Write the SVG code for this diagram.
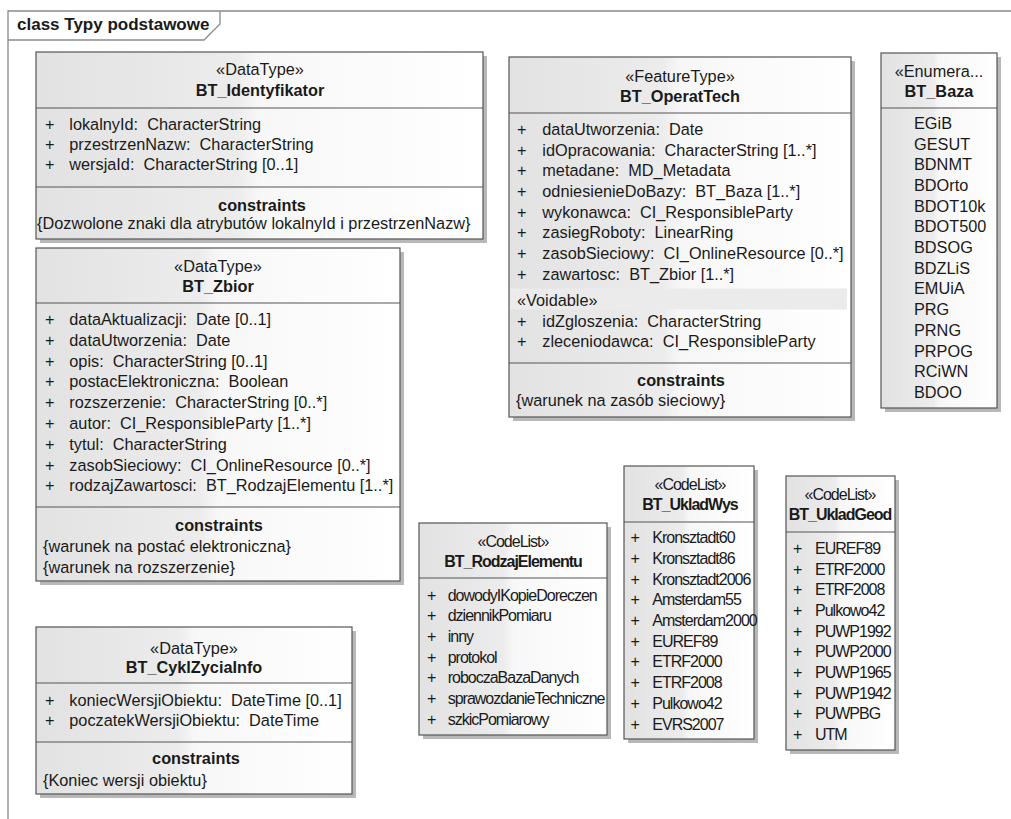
<svg xmlns="http://www.w3.org/2000/svg" width="1011" height="819" viewBox="0 0 1011 819">
<defs>
<linearGradient id="g" x1="0" y1="0" x2="1" y2="0">
<stop offset="0" stop-color="#e2e2e2"/>
<stop offset="0.45" stop-color="#ececec"/>
<stop offset="0.5" stop-color="#f7f7f7"/>
<stop offset="1" stop-color="#ffffff"/>
</linearGradient>
<style>
.frame{fill:none;stroke:#8a8a8a;stroke-width:1.3}
.box{fill:url(#g);stroke:#555555;stroke-width:1.2}
.sh{fill:#b8b8b8}
.ln{stroke:#555555;stroke-width:1.2}
.vb{fill:#ebebeb}
text{font-family:"Liberation Sans",Arial,sans-serif;font-size:16.3px;fill:#1a1a1a;white-space:pre}
.b{font-weight:bold}
.c{text-anchor:middle}
.n text{letter-spacing:-1px;font-size:16px}
.t{font-size:17px;font-weight:bold}
</style>
</defs>
<rect x="0" y="0" width="1011" height="819" fill="#ffffff"/>
<g id="frame">
<path class="frame" d="M8,819 V11 H1011"/>
<path class="frame" d="M8,40 H204 L220,24 V11"/>
<text class="t" x="17" y="30">class Typy podstawowe</text>
</g>
<g id="connectors"/>

<g id="BT_Identyfikator">
<rect class="sh" x="40" y="56" width="447" height="187"/>
<rect class="box" x="36" y="52" width="447" height="187"/>
<line class="ln" x1="36" y1="108" x2="483" y2="108"/>
<line class="ln" x1="36" y1="187" x2="483" y2="187"/>
<text class="c" x="260" y="75">«DataType»</text>
<text class="c b" x="260" y="96">BT_Identyfikator</text>
<text x="45" y="130">+</text><text x="69.3" y="130">lokalnyId:  CharacterString</text>
<text x="45" y="150.3">+</text><text x="69.3" y="150.3">przestrzenNazw:  CharacterString</text>
<text x="45" y="170.3">+</text><text x="69.3" y="170.3">wersjaId:  CharacterString [0..1]</text>
<text class="c b" x="262" y="210.5">constraints</text>
<text x="37" y="229">{Dozwolone znaki dla atrybutów lokalnyId i przestrzenNazw}</text>
</g>

<g id="BT_Zbior">
<rect class="sh" x="40" y="252" width="364" height="333"/>
<rect class="box" x="36" y="248" width="364" height="333"/>
<line class="ln" x1="36" y1="303" x2="400" y2="303"/>
<line class="ln" x1="36" y1="507" x2="400" y2="507"/>
<text class="c" x="218" y="272">«DataType»</text>
<text class="c b" x="218" y="292">BT_Zbior</text>
<text x="45" y="324.8">+</text><text x="69.3" y="324.8">dataAktualizacji:  Date [0..1]</text>
<text x="45" y="345.6">+</text><text x="69.3" y="345.6">dataUtworzenia:  Date</text>
<text x="45" y="366.5">+</text><text x="69.3" y="366.5">opis:  CharacterString [0..1]</text>
<text x="45" y="387.3">+</text><text x="69.3" y="387.3">postacElektroniczna:  Boolean</text>
<text x="45" y="408.1">+</text><text x="69.3" y="408.1">rozszerzenie:  CharacterString [0..*]</text>
<text x="45" y="429">+</text><text x="69.3" y="429">autor:  CI_ResponsibleParty [1..*]</text>
<text x="45" y="449.8">+</text><text x="69.3" y="449.8">tytul:  CharacterString</text>
<text x="45" y="470.6">+</text><text x="69.3" y="470.6">zasobSieciowy:  CI_OnlineResource [0..*]</text>
<text x="45" y="491.4">+</text><text x="69.3" y="491.4">rodzajZawartosci:  BT_RodzajElementu [1..*]</text>
<text class="c b" x="219" y="531">constraints</text>
<text x="43" y="552">{warunek na postać elektroniczna}</text>
<text x="43" y="572.7">{warunek na rozszerzenie}</text>
</g>

<g id="BT_CyklZyciaInfo">
<rect class="sh" x="40" y="631" width="316" height="167"/>
<rect class="box" x="36" y="627" width="316" height="167"/>
<line class="ln" x1="36" y1="683" x2="352" y2="683"/>
<line class="ln" x1="36" y1="742" x2="352" y2="742"/>
<text class="c" x="194" y="653.8">«DataType»</text>
<text class="c b" x="194" y="672.8">BT_CyklZyciaInfo</text>
<text x="45" y="705.5">+</text><text x="69.3" y="705.5">koniecWersjiObiektu:  DateTime [0..1]</text>
<text x="45" y="725.5">+</text><text x="69.3" y="725.5">poczatekWersjiObiektu:  DateTime</text>
<text class="c b" x="196" y="763.8">constraints</text>
<text x="43" y="785.5">{Koniec wersji obiektu}</text>
</g>

<g id="BT_OperatTech">
<rect class="sh" x="513" y="61" width="342" height="360"/>
<rect class="box" x="509" y="57" width="342" height="360"/>
<line class="ln" x1="509" y1="113" x2="851" y2="113"/>
<line class="ln" x1="509" y1="363" x2="851" y2="363"/>
<text class="c" x="680" y="81.5">«FeatureType»</text>
<text class="c b" x="680" y="101.5">BT_OperatTech</text>
<text x="517" y="134.8">+</text><text x="542.3" y="134.8">dataUtworzenia:  Date</text>
<text x="517" y="155.5">+</text><text x="542.3" y="155.5">idOpracowania:  CharacterString [1..*]</text>
<text x="517" y="176.2">+</text><text x="542.3" y="176.2">metadane:  MD_Metadata</text>
<text x="517" y="196.9">+</text><text x="542.3" y="196.9">odniesienieDoBazy:  BT_Baza [1..*]</text>
<text x="517" y="217.6">+</text><text x="542.3" y="217.6">wykonawca:  CI_ResponsibleParty</text>
<text x="517" y="238.3">+</text><text x="542.3" y="238.3">zasiegRoboty:  LinearRing</text>
<text x="517" y="259">+</text><text x="542.3" y="259">zasobSieciowy:  CI_OnlineResource [0..*]</text>
<text x="517" y="279.7">+</text><text x="542.3" y="279.7">zawartosc:  BT_Zbior [1..*]</text>
<rect class="vb" x="510" y="288.5" width="337" height="21"/>
<text x="517" y="305.5">«Voidable»</text>
<text x="517" y="327.2">+</text><text x="542.3" y="327.2">idZgloszenia:  CharacterString</text>
<text x="517" y="347.2">+</text><text x="542.3" y="347.2">zleceniodawca:  CI_ResponsibleParty</text>
<text class="c b" x="681" y="385.5">constraints</text>
<text x="516" y="406.2">{warunek na zasób sieciowy}</text>
</g>

<g id="BT_Baza">
<rect class="sh" x="885" y="57" width="116" height="355"/>
<rect class="box" x="881" y="53" width="116" height="355"/>
<line class="ln" x1="881" y1="108" x2="997" y2="108"/>
<text class="c" x="939" y="77.2">«Enumera...</text>
<text class="c b" x="939" y="97.2">BT_Baza</text>
<text x="914" y="128.8">EGiB</text>
<text x="914" y="149.5">GESUT</text>
<text x="914" y="170.2">BDNMT</text>
<text x="914" y="190.9">BDOrto</text>
<text x="914" y="211.6">BDOT10k</text>
<text x="914" y="232.3">BDOT500</text>
<text x="914" y="253">BDSOG</text>
<text x="914" y="273.7">BDZLiS</text>
<text x="914" y="294.4">EMUiA</text>
<text x="914" y="315.1">PRG</text>
<text x="914" y="335.8">PRNG</text>
<text x="914" y="356.5">PRPOG</text>
<text x="914" y="377.2">RCiWN</text>
<text x="914" y="397.9">BDOO</text>
</g>

<g id="BT_RodzajElementu" class="n">
<rect class="sh" x="423" y="527" width="188" height="212"/>
<rect class="box" x="419" y="523" width="188" height="212"/>
<line class="ln" x1="419" y1="578" x2="607" y2="578"/>
<text class="c" x="513" y="546.5">«CodeList»</text>
<text class="c b" x="513" y="567.2">BT_RodzajElementu</text>
<text x="427" y="600.5">+</text><text x="447.7" y="600.5">dowodyIKopieDoreczen</text>
<text x="427" y="621.2">+</text><text x="447.7" y="621.2">dziennikPomiaru</text>
<text x="427" y="641.9">+</text><text x="447.7" y="641.9">inny</text>
<text x="427" y="662.6">+</text><text x="447.7" y="662.6">protokol</text>
<text x="427" y="683.3">+</text><text x="447.7" y="683.3">roboczaBazaDanych</text>
<text x="427" y="704">+</text><text x="447.7" y="704">sprawozdanieTechniczne</text>
<text x="427" y="724.7">+</text><text x="447.7" y="724.7">szkicPomiarowy</text>
</g>

<g id="BT_UkladWys" class="n">
<rect class="sh" x="628" y="470" width="130" height="273"/>
<rect class="box" x="624" y="466" width="130" height="273"/>
<line class="ln" x1="624" y1="522" x2="754" y2="522"/>
<text class="c" x="690" y="489.8">«CodeList»</text>
<text class="c b" x="690" y="509.8">BT_UkladWys</text>
<text x="630.5" y="543.2">+</text><text x="652.3" y="543.2">Kronsztadt60</text>
<text x="630.5" y="563.9">+</text><text x="652.3" y="563.9">Kronsztadt86</text>
<text x="630.5" y="584.6">+</text><text x="652.3" y="584.6">Kronsztadt2006</text>
<text x="630.5" y="605.3">+</text><text x="652.3" y="605.3">Amsterdam55</text>
<text x="630.5" y="626">+</text><text x="652.3" y="626">Amsterdam2000</text>
<text x="630.5" y="646.7">+</text><text x="652.3" y="646.7">EUREF89</text>
<text x="630.5" y="667.4">+</text><text x="652.3" y="667.4">ETRF2000</text>
<text x="630.5" y="688.1">+</text><text x="652.3" y="688.1">ETRF2008</text>
<text x="630.5" y="708.8">+</text><text x="652.3" y="708.8">Pulkowo42</text>
<text x="630.5" y="729.5">+</text><text x="652.3" y="729.5">EVRS2007</text>
</g>

<g id="BT_UkladGeod" class="n">
<rect class="sh" x="790" y="480" width="109" height="274"/>
<rect class="box" x="786" y="476" width="109" height="274"/>
<line class="ln" x1="786" y1="532" x2="895" y2="532"/>
<text class="c" x="840" y="499.8">«CodeList»</text>
<text class="c b" x="840" y="519.8">BT_UkladGeod</text>
<text x="793" y="553.8">+</text><text x="815" y="553.8">EUREF89</text>
<text x="793" y="574.5">+</text><text x="815" y="574.5">ETRF2000</text>
<text x="793" y="595.2">+</text><text x="815" y="595.2">ETRF2008</text>
<text x="793" y="615.9">+</text><text x="815" y="615.9">Pulkowo42</text>
<text x="793" y="636.6">+</text><text x="815" y="636.6">PUWP1992</text>
<text x="793" y="657.3">+</text><text x="815" y="657.3">PUWP2000</text>
<text x="793" y="678">+</text><text x="815" y="678">PUWP1965</text>
<text x="793" y="698.7">+</text><text x="815" y="698.7">PUWP1942</text>
<text x="793" y="719.4">+</text><text x="815" y="719.4">PUWPBG</text>
<text x="793" y="740.1">+</text><text x="815" y="740.1">UTM</text>
</g>
</svg>
